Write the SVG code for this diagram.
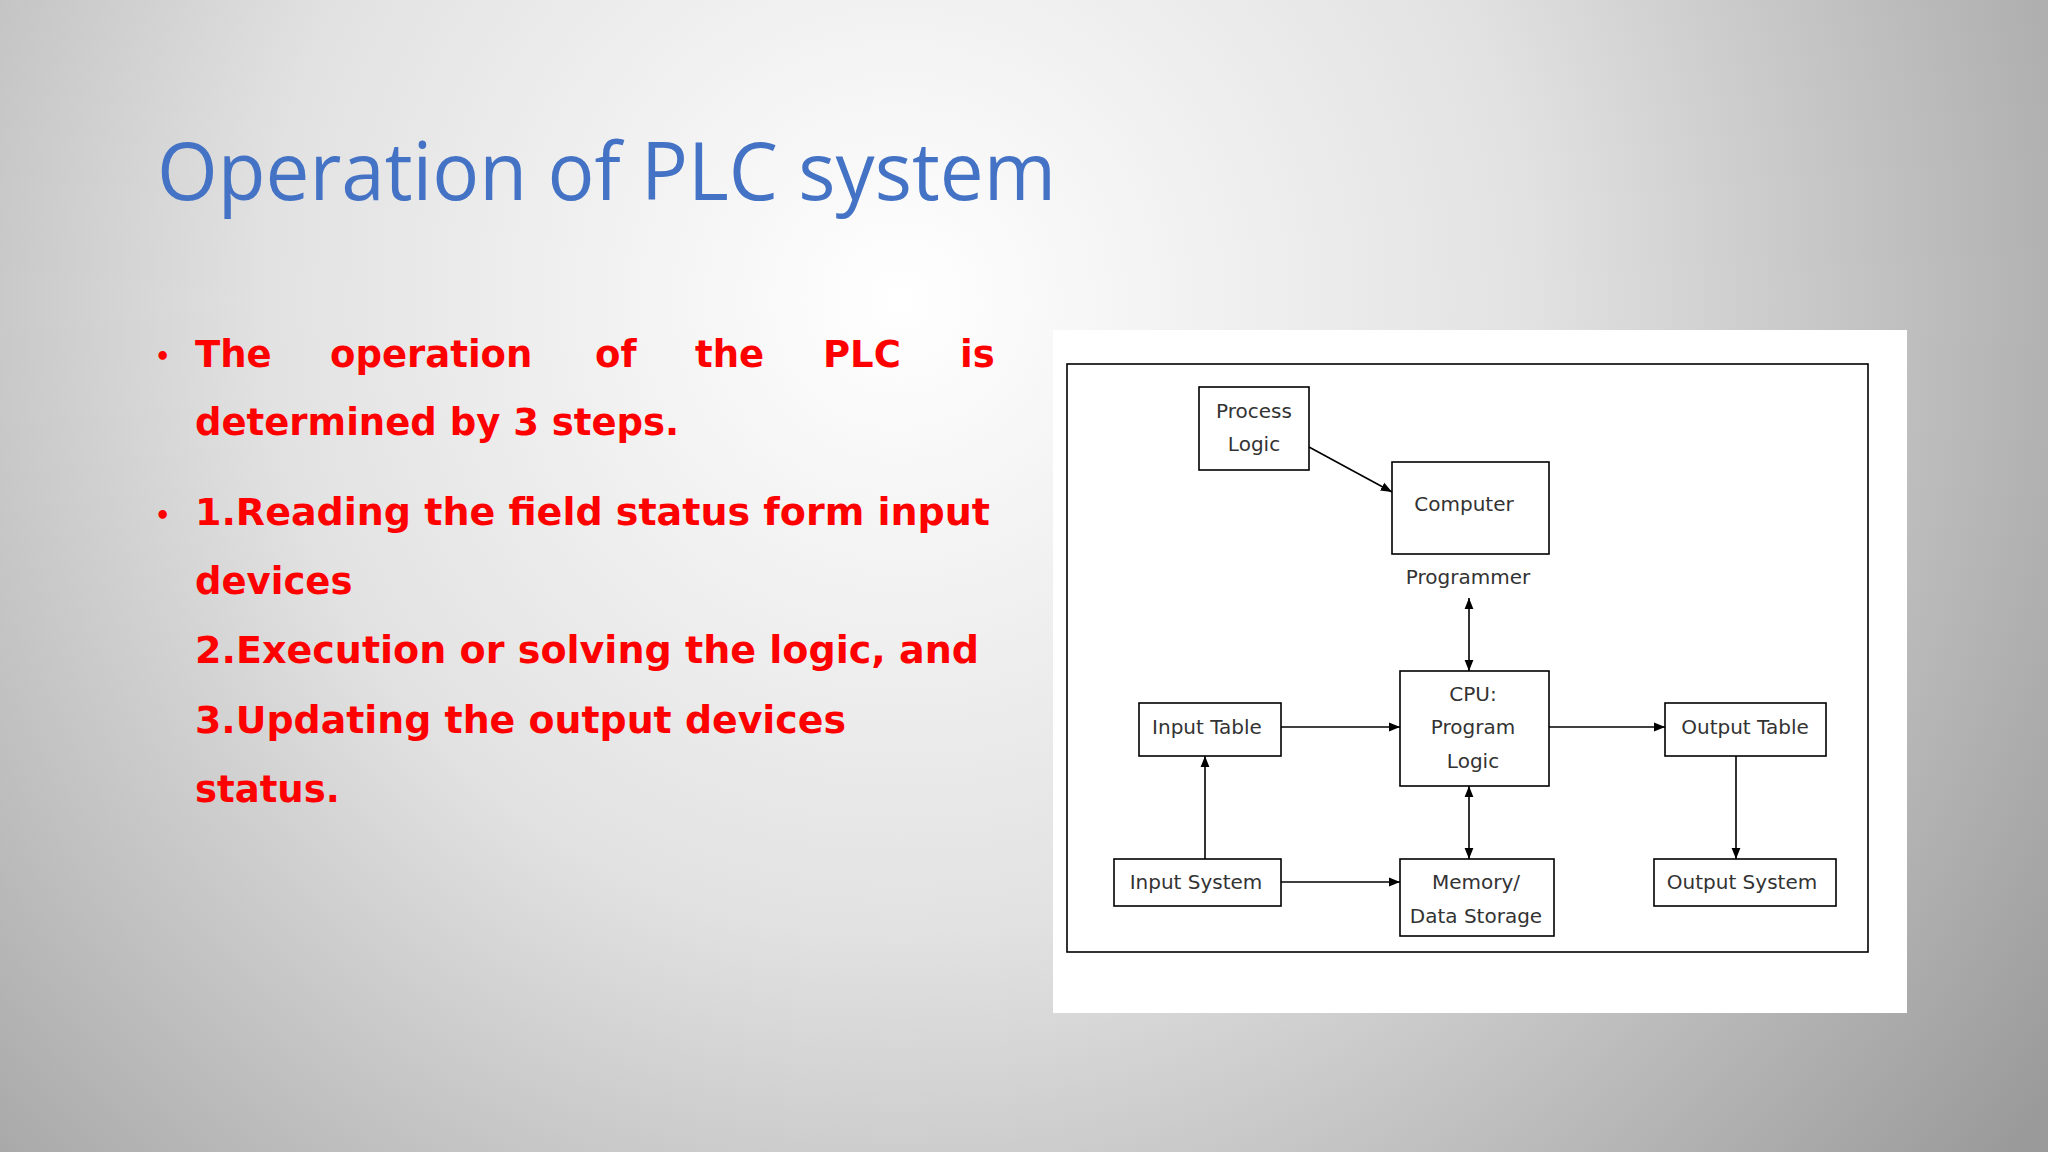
<svg xmlns="http://www.w3.org/2000/svg" width="2048" height="1152" viewBox="0 0 2048 1152">
<defs>
<radialGradient id="bg" cx="900" cy="300" r="1400" gradientUnits="userSpaceOnUse">
<stop offset="0" stop-color="#ffffff"/><stop offset="0.45" stop-color="#e2e2e2"/><stop offset="1" stop-color="#9a9a9a"/>
</radialGradient>
<marker id="ah" viewBox="0 0 10 10" refX="10" refY="5" markerWidth="7" markerHeight="7" orient="auto-start-reverse"><path d="M0,1 L10,5 L0,9 z" fill="#000"/></marker>
<style>
.b{font-family:"DejaVu Sans",sans-serif;font-weight:bold;font-size:37px;fill:#ff0000}
.box{fill:#fff;stroke:#000;stroke-width:1.6}
.t{font-family:"DejaVu Sans",sans-serif;font-size:20px;fill:#333;text-anchor:middle}
.c{stroke:#000;stroke-width:1.6;fill:none;marker-end:url(#ah)}
.d{marker-start:url(#ah)}
</style>
</defs>
<rect width="2048" height="1152" fill="url(#bg)"/>
<text x="157" y="200" font-family="'Open Sans',sans-serif" font-size="80" fill="#4472c4" textLength="899" lengthAdjust="spacingAndGlyphs">Operation of PLC system</text>
<g class="b">
<text x="155" y="365" font-size="24">•</text>
<text x="155" y="524" font-size="24">•</text>
<text x="195" y="367">The</text><text x="330" y="367">operation</text><text x="595" y="367">of</text><text x="695" y="367">the</text><text x="823" y="367">PLC</text><text x="960" y="367">is</text>
<text x="195" y="435">determined by 3 steps.</text>
<text x="195" y="525" textLength="795" lengthAdjust="spacingAndGlyphs">1.Reading the field status form input</text>
<text x="195" y="594">devices</text>
<text x="195" y="663" textLength="784" lengthAdjust="spacingAndGlyphs">2.Execution or solving the logic, and</text>
<text x="195" y="733" textLength="651" lengthAdjust="spacingAndGlyphs">3.Updating the output devices</text>
<text x="195" y="802">status.</text>
</g>
<rect x="1053" y="330" width="854" height="683" fill="#fff"/>
<rect x="1067" y="364" width="801" height="588" fill="none" stroke="#000" stroke-width="1.6"/>
<g id="process-logic"><rect class="box" x="1199" y="387" width="110" height="83"/><text class="t" x="1254" y="418">Process</text><text class="t" x="1254" y="451">Logic</text></g>
<g id="computer"><rect class="box" x="1392" y="462" width="157" height="92"/><text class="t" x="1464" y="511">Computer</text><text class="t" x="1468" y="584">Programmer</text></g>
<g id="cpu"><rect class="box" x="1400" y="671" width="149" height="115"/><text class="t" x="1473" y="701">CPU:</text><text class="t" x="1473" y="734">Program</text><text class="t" x="1473" y="768">Logic</text></g>
<g id="input-table"><rect class="box" x="1139" y="703" width="142" height="53"/><text class="t" x="1207" y="734">Input Table</text></g>
<g id="output-table"><rect class="box" x="1665" y="703" width="161" height="53"/><text class="t" x="1745" y="734">Output Table</text></g>
<g id="input-system"><rect class="box" x="1114" y="859" width="167" height="47"/><text class="t" x="1196" y="889">Input System</text></g>
<g id="memory"><rect class="box" x="1400" y="859" width="154" height="77"/><text class="t" x="1476" y="889">Memory/</text><text class="t" x="1476" y="923">Data Storage</text></g>
<g id="output-system"><rect class="box" x="1654" y="859" width="182" height="47"/><text class="t" x="1742" y="889">Output System</text></g>
<g id="connectors">
<line class="c" x1="1309" y1="447" x2="1392" y2="492"/>
<line class="c d" x1="1469" y1="598" x2="1469" y2="671"/>
<line class="c" x1="1281" y1="727" x2="1400" y2="727"/>
<line class="c" x1="1549" y1="727" x2="1665" y2="727"/>
<line class="c" x1="1736" y1="756" x2="1736" y2="859"/>
<line class="c" x1="1205" y1="859" x2="1205" y2="756"/>
<line class="c" x1="1281" y1="882" x2="1400" y2="882"/>
<line class="c d" x1="1469" y1="786" x2="1469" y2="859"/>
</g>
</svg>
